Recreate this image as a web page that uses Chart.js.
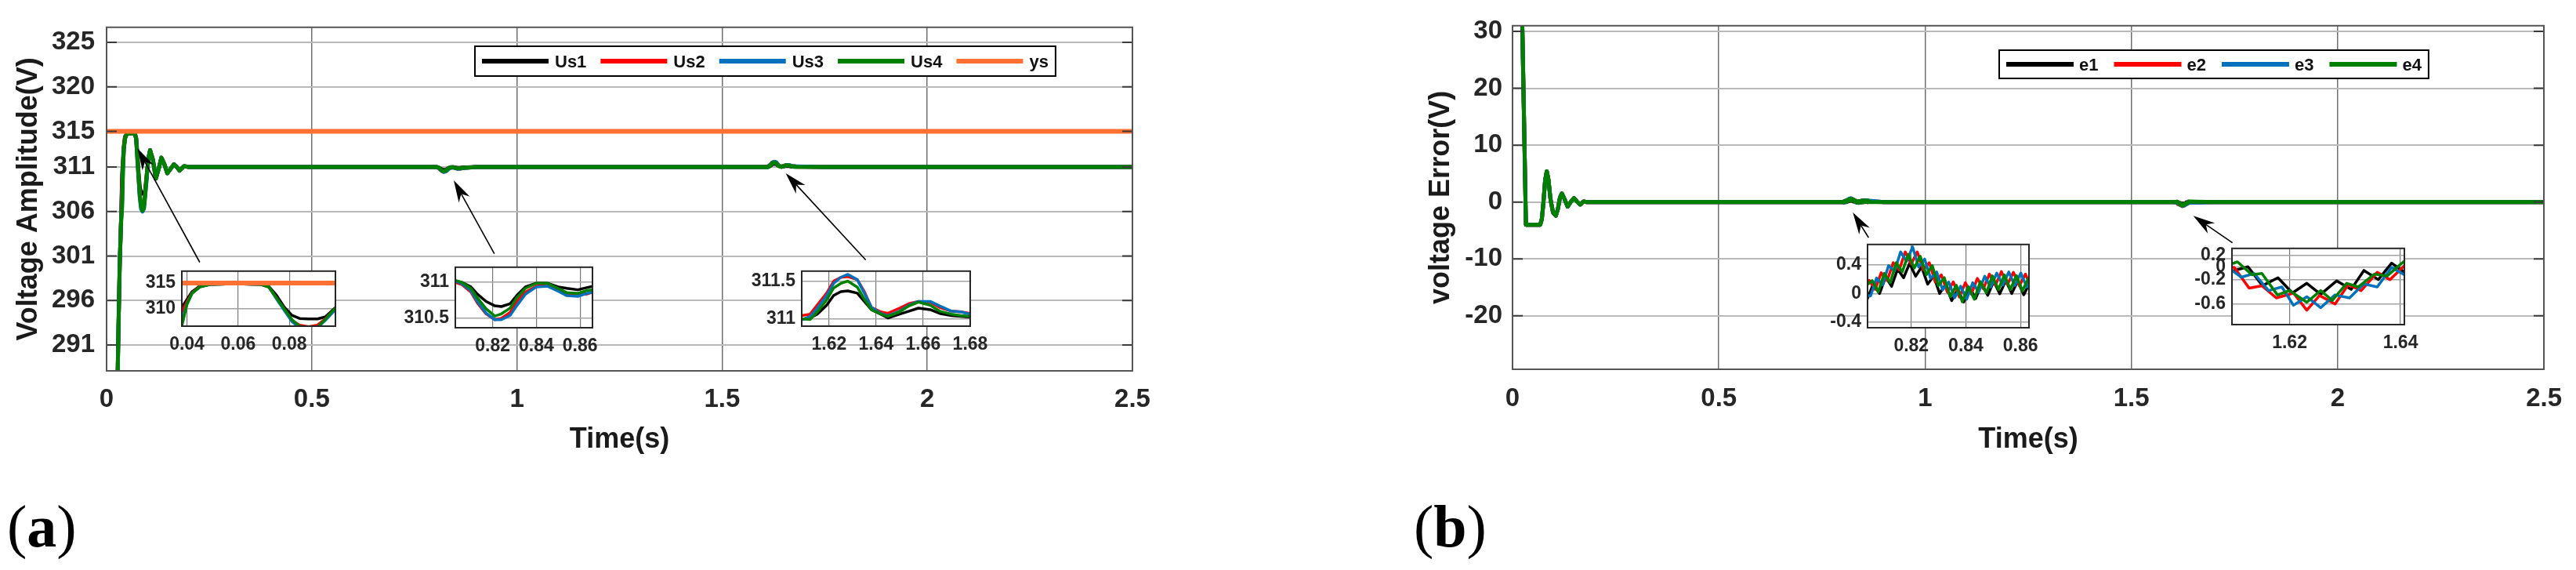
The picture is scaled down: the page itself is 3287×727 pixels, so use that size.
<!DOCTYPE html>
<html>
<head>
<meta charset="utf-8">
<script src="https://cdn.jsdelivr.net/npm/chart.js@4.4.0/dist/chart.umd.min.js"></script>
<style>
  html, body { margin: 0; padding: 0; background: #fff; }
  #page { position: relative; width: 3287px; height: 727px; overflow: hidden; background: #fff; }
  canvas { position: absolute; }
  .tag { position: absolute; font-family: "Liberation Serif", "Times New Roman", serif; font-size: 76px; line-height: 1; color: #000; }
</style>
</head>
<body>
<div id="page">
  <canvas id="mainA" width="1600" height="600" style="left:0;top:0"></canvas>
  <canvas id="mainB" width="1507" height="600" style="left:1780px;top:0"></canvas>
  <div class="tag" style="left:9px;top:633px">(<b>a</b>)</div>
  <div class="tag" style="left:1804px;top:633px">(<b>b</b>)</div>
</div>
<script>
// ── Data (a): voltage amplitude ──────────────────────────────────────────────
const usLabels = ['Us1', 'Us2', 'Us3', 'Us4'];

const riseTime = [0, 0.02, 0.026, 0.029, 0.032, 0.035];
const usRise   = [0, 200, 285, 293, 300, 304.5];

const winATime = [0.038, 0.040, 0.042, 0.045, 0.049, 0.055, 0.062, 0.069, 0.072, 0.075, 0.078, 0.081, 0.084, 0.0875, 0.091, 0.094, 0.098];
const us1WinA  = [310.2, 311.8, 313.3, 314.4, 314.7, 314.8, 314.8, 314.7, 314.3, 312.6, 310.3, 308.7, 308.1, 308.0, 308.0, 308.4, 310.2];
const us2WinA  = [309.3, 311.3, 313.1, 314.3, 314.7, 314.8, 314.8, 314.7, 314.2, 312.0, 309.8, 307.7, 306.8, 306.5, 306.8, 308.0, 310.0];
const us3WinA  = [307.5, 310.9, 313.0, 314.2, 314.7, 314.8, 314.8, 314.7, 314.2, 311.9, 309.7, 307.5, 306.3, 306.0, 306.3, 307.7, 309.8];
const us4WinA  = [306.6, 310.8, 313.0, 314.2, 314.7, 314.8, 314.8, 314.7, 314.2, 312.1, 310.0, 307.9, 306.6, 306.1, 306.4, 307.9, 310.2];

const settleTime = [0.102, 0.106, 0.113, 0.120, 0.127, 0.1335, 0.141, 0.148, 0.156, 0.164, 0.171, 0.178, 0.189, 0.2, 0.8];
const usSettle   = [312.0, 312.9, 311.8, 309.7, 310.8, 312.05, 311.3, 310.3, 310.8, 311.3, 311.0, 310.6, 311.1, 311.0, 311.0];

const winBTime = [0.803, 0.806, 0.810, 0.813, 0.817, 0.821, 0.824, 0.828, 0.831, 0.835, 0.840, 0.845, 0.850, 0.854, 0.859, 0.863, 0.866];
const us1WinB  = [311.01, 310.99, 310.93, 310.83, 310.73, 310.67, 310.66, 310.70, 310.81, 310.93, 310.98, 310.98, 310.93, 310.91, 310.89, 310.92, 310.94];
const us2WinB  = [310.99, 310.96, 310.86, 310.71, 310.56, 310.48, 310.50, 310.58, 310.73, 310.86, 310.94, 310.95, 310.88, 310.83, 310.84, 310.83, 310.86];
const us3WinB  = [311.01, 310.97, 310.88, 310.73, 310.57, 310.48, 310.48, 310.54, 310.67, 310.83, 310.93, 310.94, 310.87, 310.81, 310.80, 310.84, 310.86];
const us4WinB  = [311.02, 310.99, 310.91, 310.78, 310.63, 310.53, 310.56, 310.64, 310.78, 310.91, 310.98, 310.98, 310.91, 310.85, 310.84, 310.88, 310.89];

const midTime = [0.9, 1.6];
const usMid   = [311.0, 311.0];

const winCTime = [1.608, 1.612, 1.615, 1.619, 1.622, 1.625, 1.628, 1.632, 1.635, 1.638, 1.642, 1.645, 1.650, 1.654, 1.658, 1.663, 1.667, 1.672, 1.676, 1.680];
const us1WinC  = [310.99, 311.01, 311.06, 311.18, 311.31, 311.36, 311.37, 311.34, 311.23, 311.12, 311.06, 311.01, 311.06, 311.10, 311.14, 311.12, 311.07, 311.04, 311.03, 311.02];
const us2WinC  = [311.04, 311.06, 311.18, 311.34, 311.50, 311.55, 311.56, 311.52, 311.36, 311.15, 311.09, 311.07, 311.14, 311.20, 311.23, 311.22, 311.15, 311.10, 311.09, 311.07];
const us3WinC  = [310.98, 311.03, 311.14, 311.31, 311.47, 311.55, 311.59, 311.52, 311.34, 311.15, 311.07, 311.04, 311.10, 311.18, 311.23, 311.23, 311.17, 311.10, 311.09, 311.06];
const us4WinC  = [311.00, 310.99, 311.09, 311.25, 311.41, 311.47, 311.50, 311.42, 311.26, 311.12, 311.06, 311.03, 311.09, 311.17, 311.22, 311.18, 311.10, 311.06, 311.04, 311.03];

const endTime = [1.75, 2.5];
const usEnd   = [311.0, 311.0];

const ysTime  = [0, 2.5];
const ysValue = [315, 315];

// ── Data (b): voltage error ──────────────────────────────────────────────────
const errLabels = ['e1', 'e2', 'e3', 'e4'];

const errRiseTime = [0, 0.0236, 0.0325, 0.050, 0.067, 0.071, 0.075, 0.079, 0.083, 0.087, 0.092, 0.098, 0.105, 0.110, 0.115, 0.1196, 0.125, 0.1335, 0.141, 0.149, 0.156, 0.164, 0.172, 0.180, 0.8];
const errRise     = [311, 31.5, -4.0, -4.0, -4.0, -3.0, 0.0, 3.8, 5.4, 4.0, 0.5, -1.8, -2.4, -1.2, 0.8, 1.5, 0.7, -0.8, 0.0, 0.7, 0.1, -0.45, 0.1, 0.0, 0.0];

const e1Win1 = [[0.8040, -0.07], [0.8062, 0.145], [0.8084, 0.00], [0.8106, 0.23], [0.8128, 0.10], [0.8150, 0.34], [0.8172, 0.22], [0.8194, 0.42], [0.8216, 0.24], [0.8238, 0.37], [0.8260, 0.13], [0.8282, 0.245], [0.8304, 0.00], [0.8326, 0.125], [0.8348, -0.10], [0.8370, 0.06], [0.8392, -0.12], [0.8414, 0.08], [0.8436, -0.07], [0.8458, 0.14], [0.8480, -0.025], [0.8502, 0.17], [0.8524, -0.005], [0.8546, 0.18], [0.8568, 0.00], [0.8590, 0.175], [0.8612, -0.018], [0.8634, 0.15]];
const e2Win1 = [[0.8046, 0.184], [0.8068, 0.057], [0.8090, 0.29], [0.8112, 0.18], [0.8134, 0.43], [0.8156, 0.33], [0.8178, 0.58], [0.8200, 0.41], [0.8222, 0.58], [0.8244, 0.33], [0.8266, 0.43], [0.8288, 0.16], [0.8310, 0.26], [0.8332, 0.02], [0.8354, 0.16], [0.8376, -0.05], [0.8398, 0.15], [0.8420, -0.01], [0.8442, 0.21], [0.8464, 0.065], [0.8486, 0.27], [0.8508, 0.115], [0.8530, 0.305], [0.8552, 0.125], [0.8574, 0.295], [0.8596, 0.107], [0.8618, 0.27], [0.8640, 0.075]];
const e3Win1 = [[0.8051, -0.035], [0.8073, 0.215], [0.8095, 0.12], [0.8117, 0.39], [0.8139, 0.31], [0.8161, 0.58], [0.8183, 0.45], [0.8205, 0.65], [0.8227, 0.37], [0.8249, 0.48], [0.8271, 0.21], [0.8293, 0.30], [0.8315, 0.05], [0.8337, 0.16], [0.8359, -0.06], [0.8381, 0.10], [0.8403, -0.08], [0.8425, 0.15], [0.8447, 0.02], [0.8469, 0.24], [0.8491, 0.09], [0.8513, 0.285], [0.8535, 0.115], [0.8557, 0.30], [0.8579, 0.11], [0.8601, 0.285], [0.8623, 0.09], [0.8645, 0.25]];
const e4Win1 = [[0.8057, 0.18], [0.8079, 0.02], [0.8101, 0.28], [0.8123, 0.15], [0.8145, 0.43], [0.8167, 0.30], [0.8189, 0.545], [0.8211, 0.355], [0.8233, 0.52], [0.8255, 0.26], [0.8277, 0.39], [0.8299, 0.11], [0.8321, 0.22], [0.8343, -0.045], [0.8365, 0.115], [0.8387, -0.115], [0.8409, 0.095], [0.8431, -0.08], [0.8453, 0.165], [0.8475, 0.01], [0.8497, 0.245], [0.8519, 0.055], [0.8541, 0.26], [0.8563, 0.055], [0.8585, 0.25], [0.8607, 0.035], [0.8629, 0.21], [0.8651, -0.005]];

const errMidTime = [0.9, 1.6];
const errMid     = [0.0, 0.0];

const e1Win2 = [[1.6096, -0.06], [1.6125, 0.01], [1.6151, -0.30], [1.6179, -0.17], [1.6205, -0.42], [1.6231, -0.26], [1.6256, -0.44], [1.6285, -0.22], [1.6311, -0.36], [1.6334, -0.05], [1.6360, -0.20], [1.6384, 0.07], [1.6407, -0.08]];
const e2Win2 = [[1.6100, 0.0], [1.6127, -0.34], [1.6150, -0.30], [1.6176, -0.50], [1.6207, -0.42], [1.6231, -0.70], [1.6254, -0.46], [1.6282, -0.60], [1.6306, -0.28], [1.6329, -0.38], [1.6358, -0.08], [1.6381, -0.20], [1.6407, 0.03]];
const e3Win2 = [[1.6096, -0.05], [1.6113, -0.16], [1.6136, -0.10], [1.6162, -0.38], [1.6186, -0.32], [1.6207, -0.62], [1.6231, -0.48], [1.6256, -0.66], [1.6282, -0.45], [1.6308, -0.50], [1.6334, -0.27], [1.6358, -0.32], [1.6384, 0.00], [1.6407, -0.12]];
const e4Win2 = [[1.6096, 0.06], [1.6106, 0.09], [1.6132, -0.12], [1.6150, -0.10], [1.6178, -0.45], [1.6200, -0.38], [1.6231, -0.57], [1.6256, -0.38], [1.6277, -0.54], [1.6303, -0.26], [1.6324, -0.32], [1.6353, -0.11], [1.6376, -0.14], [1.6400, 0.05], [1.6407, 0.10]];

const errEndTime = [1.7, 2.5];
const errEnd     = [0.0, 0.0];

// ── Ticks ────────────────────────────────────────────────────────────────────
const timeTicks   = [0, 0.5, 1, 1.5, 2, 2.5];
const ampTicks    = [291, 296, 301, 306, 311, 315, 320, 325];
const errTicks    = [-20, -10, 0, 10, 20, 30];
const insA1XTicks = [0.04, 0.06, 0.08];
const insA1YTicks = [310, 315];
const insA2XTicks = [0.82, 0.84, 0.86];
const insA2YTicks = [310.5, 311];
const insA3XTicks = [1.62, 1.64, 1.66, 1.68];
const insA3YTicks = [311, 311.5];
const insB1XTicks = [0.82, 0.84, 0.86];
const insB1YTicks = [-0.4, 0, 0.4];
const insB2XTicks = [1.62, 1.64];
const insB2YTicks = [-0.6, -0.2, 0, 0.2];

// arrows: [t from, value from, t to, value to]
const arrowsA = [[0.227, 300.3, 0.0753, 313.1], [0.945, 301.26, 0.846, 309.5], [1.85, 300.56, 1.655, 310.3]];
const arrowsB = [[0.863, -6.25, 0.825, -1.82], [1.745, -7.16, 1.65, -2.41]];

// ── Build series ─────────────────────────────────────────────────────────────
const zip   = (ts, vs) => ts.map((t, i) => ({ x: t, y: vs[i] }));
const pairs = (list) => list.map(([x, y]) => ({ x, y }));

const usWinA = [us1WinA, us2WinA, us3WinA, us4WinA];
const usWinB = [us1WinB, us2WinB, us3WinB, us4WinB];
const usWinC = [us1WinC, us2WinC, us3WinC, us4WinC];
const usSeries = usWinA.map((_, i) => [
  ...zip(riseTime, usRise), ...zip(winATime, usWinA[i]), ...zip(settleTime, usSettle),
  ...zip(winBTime, usWinB[i]), ...zip(midTime, usMid), ...zip(winCTime, usWinC[i]), ...zip(endTime, usEnd),
]);
const ysSeries = zip(ysTime, ysValue);

const errWin1 = [e1Win1, e2Win1, e3Win1, e4Win1];
const errWin2 = [e1Win2, e2Win2, e3Win2, e4Win2];
const errSeries = errWin1.map((w, i) => [
  ...zip(errRiseTime, errRise), ...pairs(w), ...zip(errMidTime, errMid), ...pairs(errWin2[i]), ...zip(errEndTime, errEnd),
]);

// ── Styles ───────────────────────────────────────────────────────────────────
const FONT = '"Liberation Sans", Arial, Helvetica, sans-serif';
Chart.defaults.font.family = FONT;
Chart.defaults.font.weight = 'bold';
Chart.defaults.color = '#262626';

const lineColors = ['#000000', '#ff0000', '#0072bd', '#008000'];
const ysColor = '#ff7033';

function usDatasets(w, ysW) {
  const ds = usSeries.map((data, i) => ({
    label: usLabels[i], data: data.slice(), borderColor: lineColors[i], borderWidth: w, order: 4 - i, clip: 0,
  }));
  ds.push({ label: 'ys', data: ysSeries.slice(), borderColor: ysColor, borderWidth: ysW, order: 0, clip: 0 });
  return ds;
}

function errDatasets(w) {
  return errSeries.map((data, i) => ({
    label: errLabels[i], data: data.slice(), borderColor: lineColors[i], borderWidth: w, order: 4 - i, clip: 0,
  }));
}

// ── Plugins ──────────────────────────────────────────────────────────────────
const framePlugin = {
  id: 'frame',
  beforeDraw(chart, args, o) {
    if (!o.fill) return;
    const { ctx, chartArea: a } = chart;
    ctx.save();
    ctx.fillStyle = '#fff';
    ctx.fillRect(a.left, a.top, a.right - a.left, a.bottom - a.top);
    ctx.restore();
  },
  afterDraw(chart, args, o) {
    const { ctx, chartArea: a, scales: { y } } = chart;
    ctx.save();
    if (o.tick) {
      ctx.strokeStyle = '#3a3a3a';
      ctx.lineWidth = 2;
      y.ticks.forEach(t => {
        const py = y.getPixelForValue(t.value);
        ctx.beginPath();
        ctx.moveTo(a.left, py); ctx.lineTo(a.left + o.tick, py);
        ctx.moveTo(a.right - o.tick, py); ctx.lineTo(a.right, py);
        ctx.stroke();
      });
    }
    ctx.strokeStyle = o.color;
    ctx.lineWidth = o.width;
    ctx.strokeRect(a.left, a.top, a.right - a.left, a.bottom - a.top);
    ctx.restore();
  },
};

const arrowPlugin = {
  id: 'arrows',
  afterDatasetsDraw(chart, args, o) {
    const { ctx, scales: { x, y } } = chart;
    ctx.save();
    ctx.strokeStyle = '#000';
    ctx.fillStyle = '#000';
    ctx.lineWidth = 1.6;
    o.list.forEach(([t0, v0, t1, v1]) => {
      const x0 = x.getPixelForValue(t0), y0 = y.getPixelForValue(v0);
      const x1 = x.getPixelForValue(t1), y1 = y.getPixelForValue(v1);
      const ang = Math.atan2(y1 - y0, x1 - x0);
      const c = Math.cos(ang), s = Math.sin(ang);
      const L = 28, W = 8;
      ctx.beginPath();
      ctx.moveTo(x0, y0);
      ctx.lineTo(x1 - c * L * 0.7, y1 - s * L * 0.7);
      ctx.stroke();
      ctx.beginPath();
      ctx.moveTo(x1, y1);
      ctx.lineTo(x1 - c * L - s * W, y1 - s * L + c * W);
      ctx.lineTo(x1 - c * L * 0.7, y1 - s * L * 0.7);
      ctx.lineTo(x1 - c * L + s * W, y1 - s * L - c * W);
      ctx.closePath();
      ctx.fill();
    });
    ctx.restore();
  },
};

const legendPlugin = {
  id: 'boxLegend',
  afterDraw(chart, args, o) {
    const ctx = chart.ctx;
    const items = o.labels.map(l => chart.data.datasets.find(d => d.label === l));
    ctx.save();
    ctx.font = `bold ${o.fontSize}px ${FONT}`;
    let w = o.padX * 2;
    items.forEach((d, i) => {
      w += o.lineLen + o.gap + ctx.measureText(d.label).width + (i < items.length - 1 ? o.itemGap : 0);
    });
    ctx.fillStyle = '#fff';
    ctx.fillRect(o.x, o.y, w, o.h);
    ctx.strokeStyle = '#000';
    ctx.lineWidth = 2;
    ctx.strokeRect(o.x, o.y, w, o.h);
    const cy = o.y + o.h / 2;
    let px = o.x + o.padX;
    items.forEach(d => {
      ctx.strokeStyle = d.borderColor;
      ctx.lineWidth = 6;
      ctx.beginPath();
      ctx.moveTo(px, cy); ctx.lineTo(px + o.lineLen, cy);
      ctx.stroke();
      px += o.lineLen + o.gap;
      ctx.fillStyle = '#111';
      ctx.textBaseline = 'middle';
      ctx.fillText(d.label, px, cy + 2);
      px += ctx.measureText(d.label).width + o.itemGap;
    });
    ctx.restore();
  },
};

// ── Chart factory ────────────────────────────────────────────────────────────
function axisChart(canvas, s, datasets) {
  const title = (text, pad) => text
    ? { display: true, text, color: '#1a1a1a', font: { size: 36 }, padding: pad }
    : { display: false };
  return new Chart(canvas, {
    type: 'line',
    data: { datasets },
    options: {
      responsive: false,
      animation: false,
      events: [],
      devicePixelRatio: 1,
      layout: { padding: s.padding },
      elements: { point: { radius: 0 }, line: { tension: 0, borderJoinStyle: 'round' } },
      scales: {
        x: {
          type: 'linear', min: s.x[0], max: s.x[1],
          afterBuildTicks: sc => { sc.ticks = s.xTicks.map(v => ({ value: v })); },
          afterFit: sc => { sc.height = s.xHeight; },
          ticks: { autoSkip: false, maxRotation: 0, padding: s.xTickPad, font: { size: s.tickSize }, callback: v => String(v) },
          grid: { color: s.vGrid[0], lineWidth: s.vGrid[1], drawTicks: false },
          border: { display: false },
          title: title(s.xTitle, { top: 0, bottom: s.xTitlePad }),
        },
        y: {
          type: 'linear', min: s.y[0], max: s.y[1],
          afterBuildTicks: sc => { sc.ticks = s.yTicks.map(v => ({ value: v })); },
          afterFit: sc => { sc.width = s.yWidth; },
          ticks: { autoSkip: false, padding: s.yTickPad, font: { size: s.tickSize }, callback: v => String(v) },
          grid: { color: s.hGrid[0], lineWidth: s.hGrid[1], drawTicks: false },
          border: { display: false },
          title: title(s.yTitle, { top: s.yTitlePad, bottom: 0 }),
        },
      },
      plugins: {
        legend: { display: false },
        tooltip: { enabled: false },
        frame: s.frame,
        arrows: s.arrows ? { list: s.arrows } : false,
        boxLegend: s.legend || false,
      },
    },
    plugins: [framePlugin, arrowPlugin, legendPlugin],
  });
}

// ── Main charts ──────────────────────────────────────────────────────────────
axisChart(document.getElementById('mainA'), {
  padding: { left: 0, top: 33, right: 155, bottom: 0 },
  x: [0, 2.5], y: [288.1, 326.7], xTicks: timeTicks, yTicks: ampTicks,
  xHeight: 127, yWidth: 136, tickSize: 33, xTickPad: 17, yTickPad: 15,
  vGrid: ['#6f6f6f', 1.5], hGrid: ['#b9b9b9', 2],
  xTitle: 'Time(s)', xTitlePad: 17, yTitle: 'Voltage Amplitude(V)', yTitlePad: 15,
  frame: { color: '#555', width: 2, tick: 13 },
  arrows: arrowsA,
  legend: { labels: ['Us1', 'Us2', 'Us3', 'Us4', 'ys'], x: 606, y: 59, h: 38, fontSize: 22, lineLen: 85, gap: 8, itemGap: 18, padX: 9 },
}, usDatasets(5, 6));

axisChart(document.getElementById('mainB'), {
  padding: { left: 0, top: 29, right: 39, bottom: 0 },
  x: [0, 2.5], y: [-29.4, 31], xTicks: timeTicks, yTicks: errTicks,
  xHeight: 129, yWidth: 150, tickSize: 33, xTickPad: 18, yTickPad: 13,
  vGrid: ['#6f6f6f', 1.5], hGrid: ['#b9b9b9', 2],
  xTitle: 'Time(s)', xTitlePad: 17, yTitle: 'voltage Error(V)', yTitlePad: 37,
  frame: { color: '#555', width: 2, tick: 13 },
  arrows: arrowsB,
  legend: { labels: errLabels, x: 771, y: 64, h: 36, fontSize: 22, lineLen: 86, gap: 7, itemGap: 20, padX: 9 },
}, errDatasets(5));

// ── Insets (frame = plot box on the page: left, top, right, bottom) ─────────
const page = document.getElementById('page');
function inset(frame, x, y, xTicks, yTicks, datasets) {
  const L = 110, T = 15, R = 45, B = 50;
  const c = document.createElement('canvas');
  c.width = frame[2] - frame[0] + L + R;
  c.height = frame[3] - frame[1] + T + B;
  c.style.left = (frame[0] - L) + 'px';
  c.style.top = (frame[1] - T) + 'px';
  page.appendChild(c);
  axisChart(c, {
    padding: { left: 0, top: T, right: R, bottom: 0 },
    x, y, xTicks, yTicks, xHeight: B, yWidth: L, tickSize: 23, xTickPad: 10, yTickPad: 8,
    vGrid: ['#7a7a7a', 1.2], hGrid: ['#a3a3a3', 1.5],
    frame: { color: '#262626', width: 2, fill: true, tick: 0 },
  }, datasets);
}

inset([232, 339, 428, 416], [0.038, 0.098], [306.6, 317.3], insA1XTicks, insA1YTicks, usDatasets(3.5, 6));
inset([581, 334, 756, 418], [0.8029, 0.8657], [310.37, 311.2], insA2XTicks, insA2YTicks, usDatasets(3.5, 6));
inset([1023, 339, 1238, 416], [1.6084, 1.68], [310.9, 311.633], insA3XTicks, insA3YTicks, usDatasets(3.5, 6));
inset([2383, 305, 2589, 418], [0.804, 0.8631], [-0.478, 0.684], insB1XTicks, insB1YTicks, errDatasets(3.5));
inset([2848, 310, 3068, 414], [1.6096, 1.6407], [-0.936, 0.311], insB2XTicks, insB2YTicks, errDatasets(3.5));
</script>
</body>
</html>
